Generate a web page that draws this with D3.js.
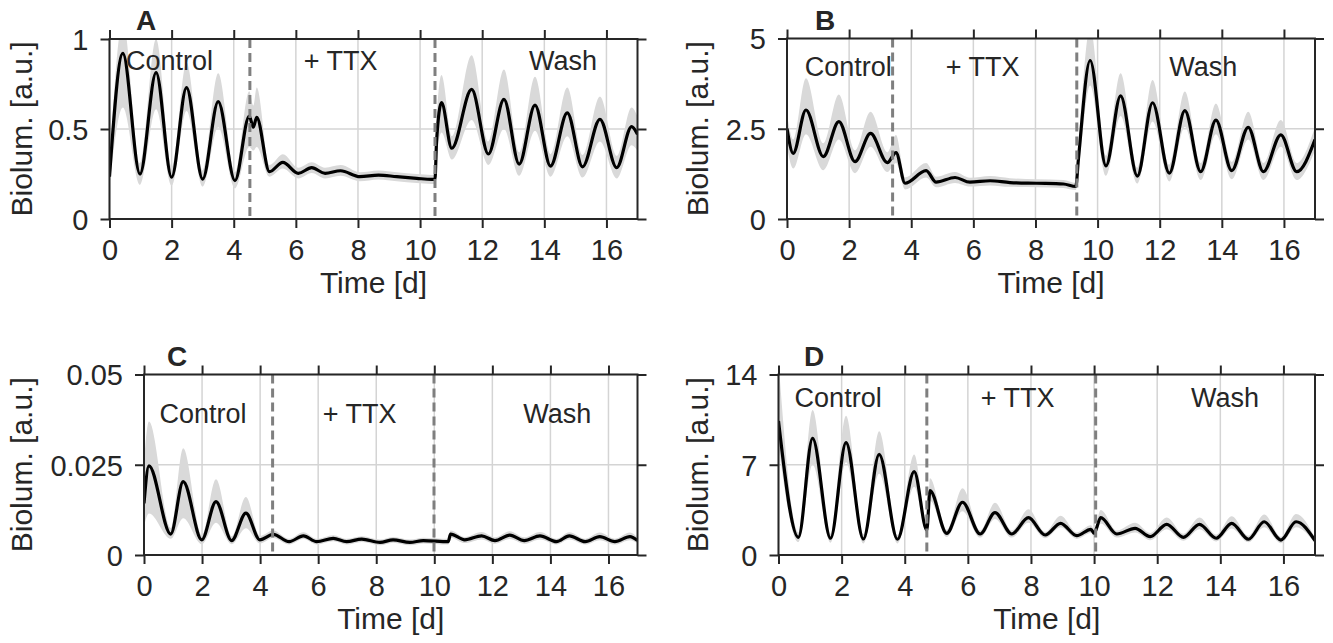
<!DOCTYPE html>
<html><head><meta charset="utf-8">
<script src="https://cdn.jsdelivr.net/npm/d3@7"></script>
<style>
body{margin:0;background:#fff}
text{font-family:"Liberation Sans", Arial, Helvetica, sans-serif; fill:#262626}
</style>
</head><body>
<svg id="c" width="1333" height="643"></svg>
<script>
// ---------- shared ----------
const xTicks = [0, 2, 4, 6, 8, 10, 12, 14, 16];
const xTickLabels = ["0", "2", "4", "6", "8", "10", "12", "14", "16"];
const phaseLabels = ["Control", "+ TTX", "Wash"];

// ---------- Panel A ----------
const tA  = [0, 0.43, 0.98, 1.50, 2.0, 2.48, 3.0, 3.5, 4.04, 4.5, 4.63, 4.74, 5.15, 5.58, 6.08, 6.51, 6.94, 7.44, 8.06, 8.66, 9.25, 9.89, 10.37, 10.48, 10.53, 10.69, 11.02, 11.66, 12.2, 12.7, 13.19, 13.7, 14.2, 14.74, 15.23, 15.79, 16.33, 16.81, 17.0];
const mA  = [0.235, 0.92, 0.25, 0.813, 0.232, 0.73, 0.222, 0.652, 0.213, 0.572, 0.51, 0.565, 0.263, 0.315, 0.254, 0.285, 0.254, 0.268, 0.235, 0.244, 0.235, 0.226, 0.22, 0.22, 0.43, 0.646, 0.393, 0.72, 0.361, 0.665, 0.305, 0.633, 0.294, 0.59, 0.29, 0.554, 0.285, 0.513, 0.47];
const loA = [0.18, 0.62, 0.19, 0.61, 0.185, 0.6, 0.18, 0.51, 0.17, 0.4, 0.38, 0.4, 0.235, 0.28, 0.225, 0.255, 0.225, 0.24, 0.21, 0.22, 0.21, 0.2, 0.195, 0.195, 0.33, 0.48, 0.33, 0.55, 0.3, 0.5, 0.24, 0.49, 0.235, 0.46, 0.23, 0.43, 0.225, 0.41, 0.38];
const hiA = [0.30, 1.1, 0.31, 1.0, 0.29, 0.87, 0.27, 0.81, 0.26, 0.71, 0.63, 0.73, 0.3, 0.36, 0.285, 0.315, 0.285, 0.3, 0.26, 0.27, 0.26, 0.25, 0.245, 0.245, 0.55, 0.8, 0.46, 0.91, 0.43, 0.83, 0.37, 0.79, 0.36, 0.73, 0.355, 0.68, 0.35, 0.62, 0.57];
const yTicksA = [0, 0.5, 1];
const yTickLabelsA = ["0", "0.5", "1"];
const washA = [4.52, 10.48];

// ---------- Panel B ----------
const tB  = [0, 0.2, 0.61, 1.17, 1.67, 2.19, 2.69, 3.23, 3.51, 3.8, 4.48, 4.8, 5.41, 5.89, 6.54, 7.18, 8.04, 8.9, 9.3, 9.38, 9.76, 10.27, 10.74, 11.28, 11.77, 12.31, 12.81, 13.32, 13.81, 14.32, 14.85, 15.34, 15.9, 16.41, 17.0];
const mB  = [2.51, 1.82, 3.02, 1.73, 2.70, 1.59, 2.37, 1.56, 1.84, 0.99, 1.34, 1.02, 1.15, 1.02, 1.06, 1.01, 0.99, 0.97, 0.90, 1.63, 4.39, 1.47, 3.41, 1.19, 3.22, 1.27, 3.0, 1.31, 2.74, 1.34, 2.54, 1.31, 2.33, 1.31, 2.2];
const loB = [2.0, 1.4, 2.35, 1.35, 2.2, 1.27, 2.0, 1.3, 1.55, 0.82, 1.15, 0.88, 1.0, 0.9, 0.93, 0.89, 0.88, 0.86, 0.8, 1.3, 3.7, 1.2, 2.85, 0.98, 2.7, 1.04, 2.55, 1.08, 2.35, 1.1, 2.2, 1.08, 2.0, 1.08, 1.9];
const hiB = [2.9, 2.2, 3.9, 2.1, 3.45, 1.9, 2.97, 1.85, 2.33, 1.15, 1.55, 1.17, 1.3, 1.14, 1.19, 1.13, 1.1, 1.08, 1.0, 1.95, 5.3, 1.75, 4.04, 1.42, 3.85, 1.5, 3.53, 1.55, 3.2, 1.58, 2.97, 1.55, 2.74, 1.55, 2.55];
const yTicksB = [0, 2.5, 5];
const yTickLabelsB = ["0", "2.5", "5"];
const washB = [3.40, 9.33];

// ---------- Panel C ----------
const tC  = [0, 0.17, 0.92, 1.35, 1.99, 2.48, 3.02, 3.51, 3.99, 4.45, 5.0, 5.49, 5.95, 6.52, 6.98, 7.5, 8.13, 8.58, 9.16, 9.62, 10.48, 10.56, 11.05, 11.63, 12.09, 12.6, 13.1, 13.64, 14.21, 14.65, 15.2, 15.7, 16.22, 16.74, 17.0];
const mC  = [0.0143, 0.0247, 0.0058, 0.0203, 0.0042, 0.0148, 0.004, 0.0116, 0.0042, 0.0057, 0.0037, 0.0053, 0.0037, 0.0046, 0.0037, 0.0044, 0.0035, 0.0042, 0.0035, 0.004, 0.0037, 0.0058, 0.0042, 0.0053, 0.004, 0.0055, 0.004, 0.0053, 0.0037, 0.0053, 0.0037, 0.0051, 0.0037, 0.0051, 0.004];
const loC = [0.008, 0.0115, 0.0045, 0.0102, 0.003, 0.0089, 0.003, 0.0074, 0.0032, 0.0047, 0.0029, 0.0044, 0.0029, 0.0038, 0.0029, 0.0036, 0.0027, 0.0034, 0.0027, 0.0032, 0.0029, 0.0048, 0.0033, 0.0043, 0.0031, 0.0044, 0.0031, 0.0043, 0.0029, 0.0043, 0.0029, 0.0041, 0.0029, 0.0041, 0.0032];
const hiC = [0.026, 0.037, 0.0075, 0.0296, 0.0055, 0.021, 0.0052, 0.0161, 0.0053, 0.0068, 0.0045, 0.0063, 0.0045, 0.0055, 0.0045, 0.0052, 0.0043, 0.005, 0.0043, 0.0048, 0.0045, 0.0068, 0.005, 0.0064, 0.0049, 0.0066, 0.0049, 0.0064, 0.0045, 0.0063, 0.0045, 0.0062, 0.0045, 0.0062, 0.0048];
const yTicksC = [0, 0.025, 0.05];
const yTickLabelsC = ["0", "0.025", "0.05"];
const washC = [4.43, 9.99];

// ---------- Panel D ----------
const tD  = [0, 0.63, 1.08, 1.65, 2.14, 2.69, 3.19, 3.77, 4.30, 4.70, 4.80, 5.33, 5.83, 6.39, 6.86, 7.39, 7.92, 8.45, 8.94, 9.45, 9.9, 10.0, 10.21, 10.72, 11.3, 11.78, 12.3, 12.83, 13.34, 13.87, 14.36, 14.89, 15.39, 15.92, 16.4, 17.0];
const mD  = [10.4, 1.37, 9.05, 1.3, 8.71, 1.24, 7.81, 1.22, 6.46, 1.94, 4.99, 1.68, 4.09, 1.63, 3.28, 1.63, 2.9, 1.55, 2.46, 1.5, 1.99, 1.68, 2.9, 1.63, 2.07, 1.42, 2.38, 1.37, 2.38, 1.3, 2.46, 1.22, 2.58, 1.16, 2.58, 1.11];
const loD = [8.5, 1.0, 7.0, 0.95, 7.2, 0.9, 6.3, 0.9, 5.3, 1.6, 4.2, 1.4, 3.4, 1.35, 2.8, 1.35, 2.5, 1.3, 2.15, 1.25, 1.7, 1.4, 2.45, 1.35, 1.75, 1.15, 2.0, 1.1, 2.0, 1.05, 2.05, 0.98, 2.15, 0.92, 2.15, 0.9];
const hiD = [15, 1.75, 11.25, 1.65, 10.8, 1.6, 9.6, 1.55, 7.8, 2.3, 5.95, 1.95, 5.17, 1.9, 4.06, 1.9, 3.55, 1.8, 3.05, 1.75, 2.3, 2.0, 3.5, 1.9, 2.5, 1.7, 2.9, 1.65, 2.9, 1.58, 3.0, 1.5, 3.15, 1.42, 3.18, 1.35];
const yTicksD = [0, 7, 14];
const yTickLabelsD = ["0", "7", "14"];
const washD = [4.70, 10.05];

// ---------- layout ----------
const panels = [
  {letter:"A", t:tA, m:mA, lo:loA, hi:hiA, yTicks:yTicksA, yLabels:yTickLabelsA, dash:washA,
   box:{l:109.5, r:637.5, t:39, b:219}, letterPos:[136, 30], yTitleX:32,
   labelT:[1.93, 7.44, 14.6], labelV:0.83},
  {letter:"B", t:tB, m:mB, lo:loB, hi:hiB, yTicks:yTicksB, yLabels:yTickLabelsB, dash:washB,
   box:{l:787, r:1315, t:38.5, b:219}, letterPos:[815, 30], yTitleX:708,
   labelT:[1.97, 6.3, 13.4], labelV:3.96},
  {letter:"C", t:tC, m:mC, lo:loC, hi:hiC, yTicks:yTicksC, yLabels:yTickLabelsC, dash:washC,
   box:{l:144, r:637.5, t:374.5, b:555}, letterPos:[167, 366], yTitleX:32,
   labelT:[2.03, 7.43, 14.24], labelV:0.0365},
  {letter:"D", t:tD, m:mD, lo:loD, hi:hiD, yTicks:yTicksD, yLabels:yTickLabelsD, dash:washD,
   box:{l:778.5, r:1315, t:374.5, b:555}, letterPos:[804, 366], yTitleX:708,
   labelT:[1.89, 7.58, 14.15], labelV:11.5}
];

const svg = d3.select("#c");
const AX = "#262626";
const tickLen = 9;

panels.forEach((p, i) => {
  const b = p.box;
  const yMax = p.yTicks[p.yTicks.length - 1];
  const x = d3.scaleLinear().domain([0, 17]).range([b.l, b.r]);
  const y = d3.scaleLinear().domain([0, yMax]).range([b.b, b.t]);
  const g = svg.append("g");

  const clipId = "clip" + i;
  svg.append("clipPath").attr("id", clipId).append("rect")
    .attr("x", b.l).attr("y", b.t).attr("width", b.r - b.l).attr("height", b.b - b.t);

  // grid
  g.append("g").selectAll("line").data(xTicks).join("line")
    .attr("x1", d => x(d)).attr("x2", d => x(d)).attr("y1", b.t).attr("y2", b.b)
    .attr("stroke", "#d4d4d4").attr("stroke-width", 1.5);
  g.append("g").selectAll("line").data(p.yTicks).join("line")
    .attr("y1", d => y(d)).attr("y2", d => y(d)).attr("x1", b.l).attr("x2", b.r)
    .attr("stroke", "#d4d4d4").attr("stroke-width", 1.5);

  const rows = p.t.map((t, k) => ({t, m:p.m[k], lo:p.lo[k], hi:p.hi[k]}));
  const plot = g.append("g").attr("clip-path", `url(#${clipId})`);
  plot.append("path").datum(rows)
    .attr("d", d3.area().curve(d3.curveMonotoneX).x(d => x(d.t)).y0(d => y(d.lo)).y1(d => y(d.hi)))
    .attr("fill", "#d9d9d9");
  plot.append("path").datum(rows)
    .attr("d", d3.line().curve(d3.curveMonotoneX).x(d => x(d.t)).y(d => y(d.m)))
    .attr("fill", "none").attr("stroke", "#000").attr("stroke-width", 3.2).attr("stroke-linejoin", "round");

  // dashed treatment lines
  g.append("g").selectAll("line").data(p.dash).join("line")
    .attr("x1", d => x(d)).attr("x2", d => x(d)).attr("y1", b.t).attr("y2", b.b)
    .attr("stroke", "#7f7f7f").attr("stroke-width", 3).attr("stroke-dasharray", "9,5");

  // phase labels
  g.append("g").selectAll("text").data(phaseLabels).join("text")
    .attr("x", (d, k) => x(p.labelT[k])).attr("y", y(p.labelV))
    .attr("text-anchor", "middle").attr("font-size", 27).text(d => d);

  // box
  g.append("rect").attr("x", b.l).attr("y", b.t).attr("width", b.r - b.l).attr("height", b.b - b.t)
    .attr("fill", "none").attr("stroke", AX).attr("stroke-width", 2);

  // axes ticks (outward on all sides)
  const xb = g.append("g").attr("transform", `translate(0,${b.b})`)
    .call(d3.axisBottom(x).tickValues(xTicks).tickFormat((d, k) => xTickLabels[k]).tickSize(tickLen).tickPadding(8));
  const xt = g.append("g").attr("transform", `translate(0,${b.t})`)
    .call(d3.axisTop(x).tickValues(xTicks).tickFormat("").tickSize(tickLen));
  const yl = g.append("g").attr("transform", `translate(${b.l},0)`)
    .call(d3.axisLeft(y).tickValues(p.yTicks).tickFormat((d, k) => p.yLabels[k]).tickSize(tickLen).tickPadding(12));
  const yr = g.append("g").attr("transform", `translate(${b.r},0)`)
    .call(d3.axisRight(y).tickValues(p.yTicks).tickFormat("").tickSize(tickLen));
  [xb, xt, yl, yr].forEach(a => {
    a.select(".domain").remove();
    a.selectAll(".tick line").attr("stroke", AX).attr("stroke-width", 2);
    a.selectAll(".tick text").attr("font-size", 29).attr("fill", AX)
      .style("font-family", '"Liberation Sans", Arial, Helvetica, sans-serif');
  });
  xb.selectAll(".tick text").attr("dy", null).attr("y", 41).attr("dominant-baseline", "auto");
  yl.selectAll(".tick text").attr("dy", "0.36em");

  // axis titles
  g.append("text").attr("x", (b.l + b.r) / 2).attr("y", b.b + 74)
    .attr("text-anchor", "middle").attr("font-size", 30).text("Time [d]");
  g.append("text").attr("transform", `translate(${p.yTitleX},${(b.t + b.b) / 2}) rotate(-90)`)
    .attr("text-anchor", "middle").attr("font-size", 30).text("Biolum. [a.u.]");

  // panel letter
  g.append("text").attr("x", p.letterPos[0]).attr("y", p.letterPos[1])
    .attr("font-size", 28).attr("font-weight", "bold").attr("fill", "#1a1a1a").text(p.letter);
});
</script>
</body></html>
